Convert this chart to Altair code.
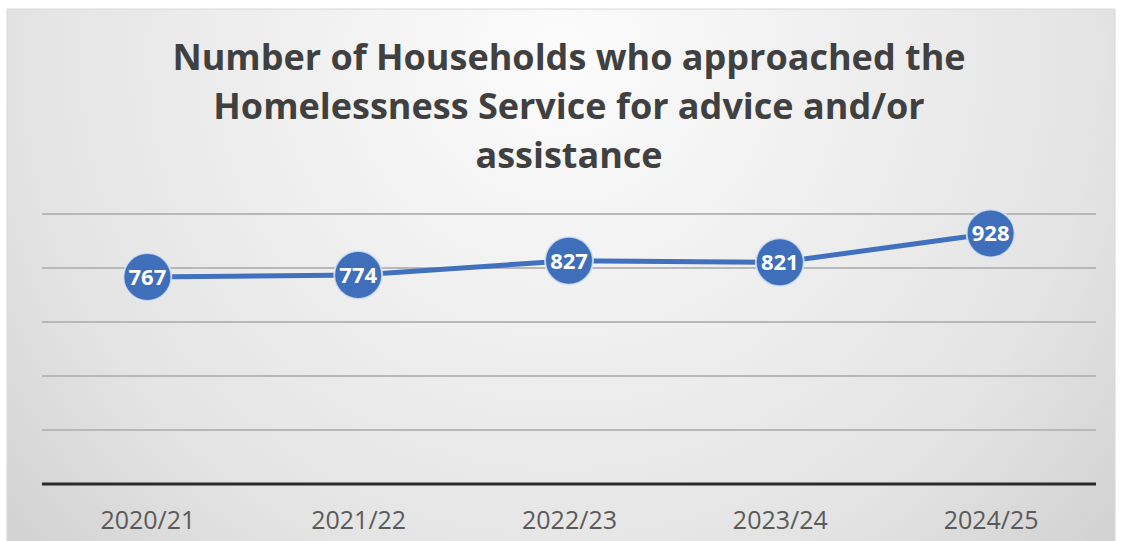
import altair as alt
import pandas as pd

years = ["2020/21", "2021/22", "2022/23", "2023/24", "2024/25"]
households = [767, 774, 827, 821, 928]
grid_values = [200, 400, 600, 800, 1000]

df = pd.DataFrame({"year": years, "value": households})
grid_df = pd.DataFrame({"g": grid_values})
base_df = pd.DataFrame({"g": [0]})
bg_df = pd.DataFrame({"k": [1]})

x_enc = alt.X("year:N", sort=years, title=None,
              scale=alt.Scale(paddingInner=0, paddingOuter=0),
              axis=alt.Axis(labelAngle=0, domain=False, ticks=False, grid=False,
                            labelFont="Open Sans", labelFontSize=25, labelColor="#5a5a5a",
                            labelPadding=24, zindex=1))
y_scale = alt.Scale(domain=[0, 1000])
y_enc = alt.Y("value:Q", scale=y_scale, axis=None)

bg = alt.Chart(bg_df).mark_rect(
    fill=alt.RadialGradient(
        gradient="radial",
        stops=[alt.GradientStop(offset=0, color="#fcfcfc"),
               alt.GradientStop(offset=0.6, color="#e4e4e4"),
               alt.GradientStop(offset=1, color="#c4c4c4")],
        x1=0.5, y1=0.3, r1=0, x2=0.5, y2=0.3, r2=0.8),
    stroke="#d8d8d8", strokeWidth=1,
).encode(x=alt.value(-35), x2=alt.value(1073), y=alt.value(-205), y2=alt.value(330))

grid = alt.Chart(grid_df).mark_rule(color="#b8b8b8", strokeWidth=2).encode(
    y=alt.Y("g:Q", scale=y_scale, axis=None), x=alt.value(0), x2=alt.value(1054))
baseline = alt.Chart(base_df).mark_rule(color="#2a2a2a", strokeWidth=3).encode(
    y=alt.Y("g:Q", scale=y_scale, axis=None), x=alt.value(0), x2=alt.value(1054))

line = alt.Chart(df).mark_line(color="#4170be", strokeWidth=5).encode(x=x_enc, y=y_enc)
pts = alt.Chart(df).mark_point(filled=True, shape="circle", size=2300, color="#3f6fba",
                               opacity=1, stroke="#dfe8f6", strokeWidth=2, strokeOpacity=0.8
                               ).encode(x=x_enc, y=y_enc)
labels = alt.Chart(df).mark_text(font="Open Sans", fontSize=22, fontWeight="bold",
                                 color="white", baseline="middle", dy=1).encode(
    x=x_enc, y=y_enc, text=alt.Text("value:Q"))

chart = alt.layer(bg, grid, baseline, line, pts, labels).properties(
    width=1054, height=270,
    title=alt.TitleParams(
        text=["Number of Households who approached the",
              "Homelessness Service for advice and/or",
              "assistance"],
        font="Open Sans", fontSize=36, fontWeight="bold", color="#404040",
        anchor="middle", lineHeight=49, offset=-167, zindex=1),
    autosize=alt.AutoSizeParams(type="none"),
    padding={"left": 42, "top": 214, "right": 29, "bottom": 57},
).configure_view(stroke=None).configure(background="white")

chart.save("out.html", embed_options={"renderer": "svg", "actions": False})
